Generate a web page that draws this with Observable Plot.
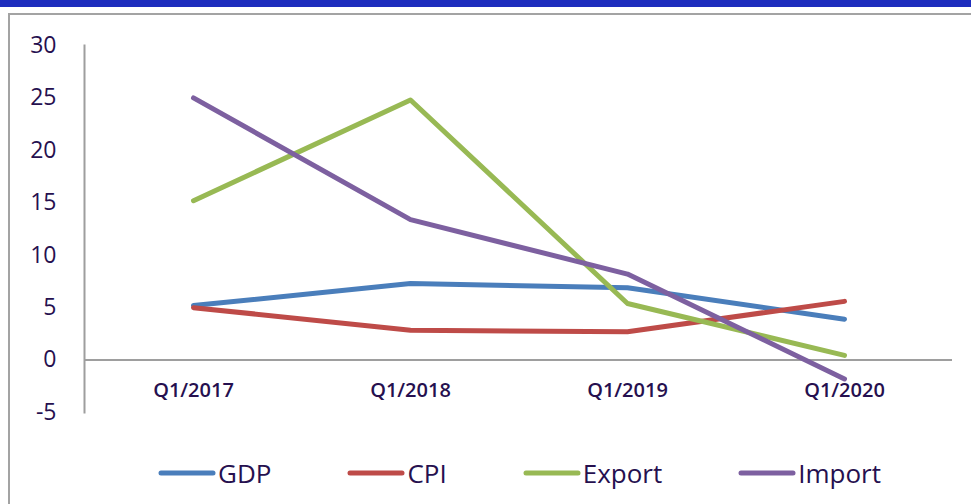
<!DOCTYPE html>
<html><head><meta charset="utf-8">
<script src="https://cdn.jsdelivr.net/npm/d3@7"></script>
<script src="https://cdn.jsdelivr.net/npm/@observablehq/plot@0.6"></script>
<style>
body{margin:0;background:#fff;font-family:"Open Sans",sans-serif;}
#wrap{position:relative;width:971px;height:504px;overflow:hidden;background:#fff;}
#bar{position:absolute;left:0;top:0;width:971px;height:7px;background:#1e2dbe;}
#frameTop{position:absolute;left:8px;top:13px;width:963px;height:2px;background:#a3a3a3;}
#frameLeft{position:absolute;left:8px;top:13px;width:2px;height:491px;background:#a3a3a3;}
#chart{position:absolute;left:0;top:0;}
#legend{position:absolute;left:158px;top:458px;display:flex;gap:76px;align-items:center;}
.item{display:flex;align-items:center;font-size:26px;color:#26104f;line-height:30px;}
.item svg{margin-right:2px;}
</style>
</head><body>
<div id="wrap">
  <div id="bar"></div>
  <div id="frameTop"></div>
  <div id="frameLeft"></div>
  <div id="chart"></div>
  <div id="legend"></div>
</div>
<script>
const quarters = ["Q1/2017", "Q1/2018", "Q1/2019", "Q1/2020"];
const seriesNames = ["GDP", "CPI", "Export", "Import"];
const gdp = [5.2, 7.3, 6.9, 3.9];
const cpi = [5.0, 2.85, 2.7, 5.6];
const exportVals = [15.2, 24.8, 5.4, 0.45];
const importVals = [25.0, 13.4, 8.2, -1.8];
const yTicks = [-5, 0, 5, 10, 15, 20, 25, 30];
const colors = ["#4a7ebb", "#be4b48", "#98b954", "#7d60a0"];
const textColor = "#26104f";

const seriesValues = [gdp, cpi, exportVals, importVals];
const table = [];
seriesNames.forEach((s, i) => {
  quarters.forEach((q, j) => table.push({series: s, quarter: q, value: seriesValues[i][j]}));
});

const chart = Plot.plot({
  width: 971,
  height: 504,
  marginLeft: 84,
  marginRight: 19,
  marginTop: 45,
  marginBottom: 92,
  style: {fontFamily: "'Open Sans', sans-serif", background: "transparent", overflow: "visible"},
  x: {type: "point", domain: quarters, padding: 0.5, axis: null},
  y: {domain: [-5, 30], axis: null},
  color: {domain: seriesNames, range: colors},
  marks: [
    Plot.frame({anchor: "left", stroke: "#9e9e9e", strokeWidth: 2}),
    Plot.ruleY([0], {stroke: "#9e9e9e", strokeWidth: 2}),
    Plot.axisY({ticks: yTicks, label: null, tickSize: 0, tickPadding: 28, fontSize: 23, fill: textColor, tickFormat: d => String(d)}),
    Plot.text(quarters, {x: d => d, y: d => 0, dy: 31, text: d => d, fontSize: 20, fontWeight: 600, fill: textColor, lineAnchor: "middle"}),
    Plot.line(table, {x: "quarter", y: "value", z: "series", stroke: "series", strokeWidth: 5, strokeLinecap: "round", strokeLinejoin: "round"})
  ]
});
document.getElementById("chart").appendChild(chart);

const legend = document.getElementById("legend");
seriesNames.forEach((s, i) => {
  const item = document.createElement("div");
  item.className = "item";
  item.innerHTML = `<svg width="58" height="10"><line x1="3" y1="5" x2="55" y2="5" stroke="${colors[i]}" stroke-width="5" stroke-linecap="round"/></svg><span>${s}</span>`;
  legend.appendChild(item);
});
</script>
</body></html>
